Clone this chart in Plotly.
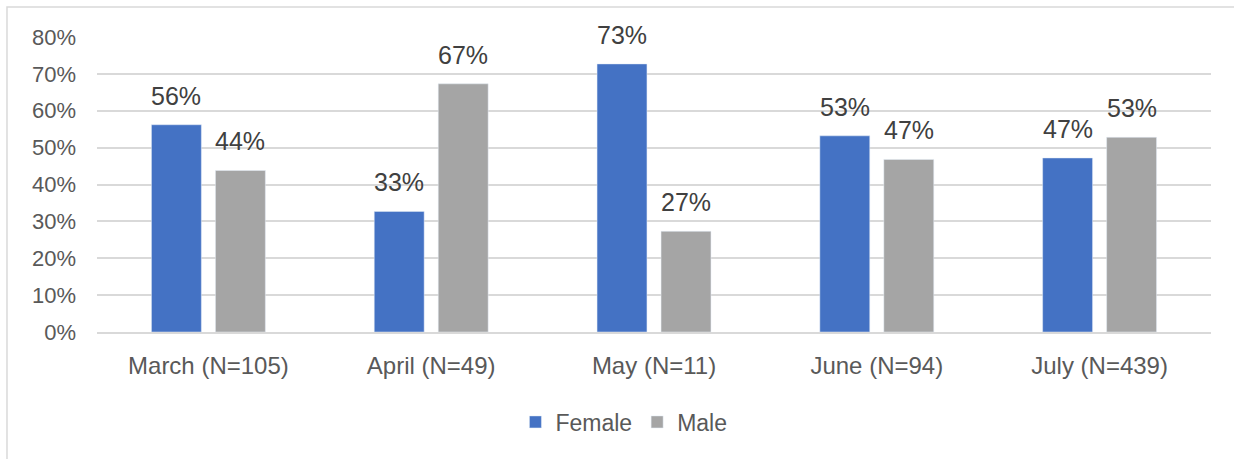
import plotly.graph_objects as go

categories = ["March (N=105)", "April (N=49)", "May (N=11)", "June (N=94)", "July (N=439)"]
female = [56.2, 32.7, 72.7, 53.2, 47.2]
male = [43.8, 67.3, 27.3, 46.8, 52.8]
y_ticks = [0, 10, 20, 30, 40, 50, 60, 70, 80]
y_tick_labels = [f"{v}%" for v in y_ticks]

BLUE = "#4472C4"
GRAY = "#A5A5A5"
TXT = "#595959"
FONT = "Liberation Sans, Arial, sans-serif"

fig = go.Figure()
fig.add_trace(go.Bar(name="Female", x=categories, y=female, marker_color=BLUE))
fig.add_trace(go.Bar(name="Male", x=categories, y=male, marker_color=GRAY))

annotations = []
for series, shift in ((female, -32), (male, 32)):
    for c, v in zip(categories, series):
        annotations.append(dict(
            x=c, y=v, xref="x", yref="y", text=f"{round(v)}%", showarrow=False,
            yanchor="bottom", xshift=shift, yshift=13,
            font=dict(family=FONT, size=25, color="#404040"),
        ))

fig.update_layout(
    width=1234, height=459,
    margin=dict(l=97, r=23, t=37, b=127),
    paper_bgcolor="white", plot_bgcolor="white",
    barmode="group", bargap=0.4255, bargroupgap=0.22,
    font=dict(family=FONT, color=TXT, size=22),
    legend=dict(orientation="h", x=0.473, xanchor="center", y=-0.305, yanchor="middle",
                font=dict(size=23, color=TXT), itemwidth=30, traceorder="normal"),
    annotations=annotations,
    shapes=[dict(type="rect", xref="paper", yref="paper",
                 x0=-0.0808, x1=1.03, y0=-0.6, y1=1.1017,
                 line=dict(color="#D9D9D9", width=1.5), fillcolor="rgba(0,0,0,0)", layer="below")],
)
fig.update_yaxes(range=[0, 80], tickvals=y_ticks, ticktext=y_tick_labels,
                 showgrid=True, gridcolor="#D9D9D9", gridwidth=1.5, zeroline=False,
                 ticklabelstandoff=20, tickfont=dict(size=22, color=TXT))
fig.update_xaxes(showline=True, linecolor="#D9D9D9", linewidth=1.5,
                 ticklabelstandoff=11, tickfont=dict(size=24, color=TXT))

fig.write_html("out.html", config={"displayModeBar": False},
               post_script="document.body.style.margin='0';document.body.style.overflow='hidden';")
